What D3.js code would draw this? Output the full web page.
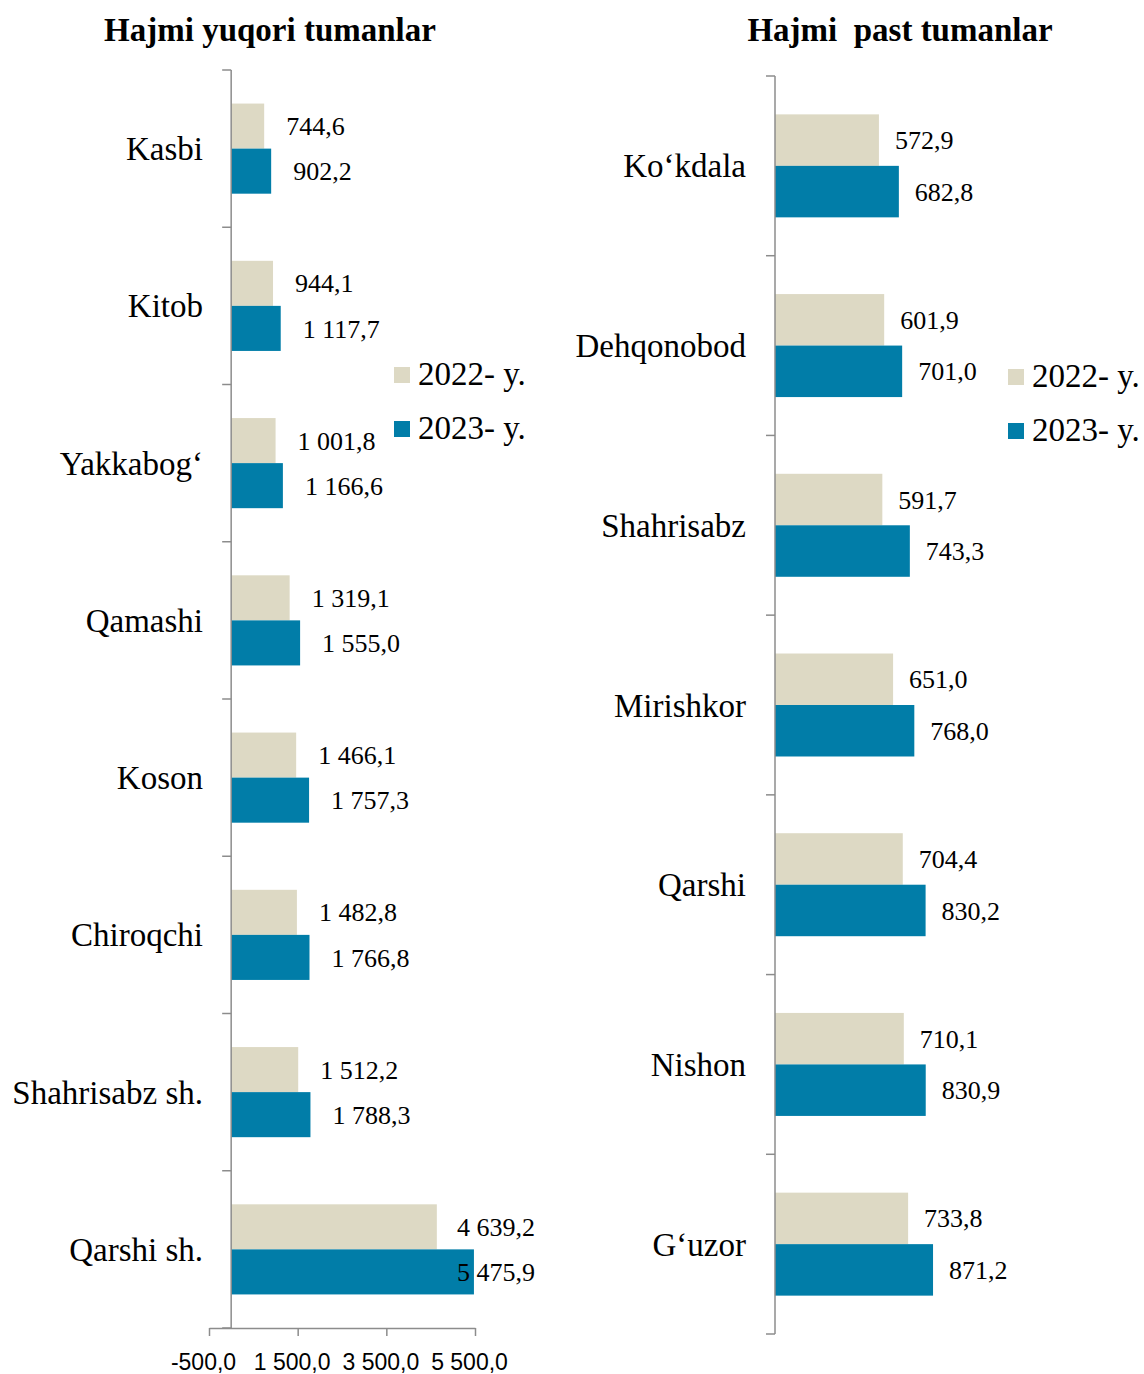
<!DOCTYPE html>
<html>
<head>
<meta charset="utf-8">
<script src="https://cdn.jsdelivr.net/npm/d3@7"></script>
<style>
  body { margin: 0; background: #fff; }
  svg { display: block; }
  text { white-space: pre; }
</style>
</head>
<body>
<div id="chart"></div>
<script>
// left panel: high volume districts
const leftTitle = "Hajmi yuqori tumanlar";
const leftCats = ["Kasbi", "Kitob", "Yakkabog‘", "Qamashi", "Koson", "Chiroqchi", "Shahrisabz sh.", "Qarshi sh."];
const left2022 = [744.6, 944.1, 1001.8, 1319.1, 1466.1, 1482.8, 1512.2, 4639.2];
const left2023 = [902.2, 1117.7, 1166.6, 1555.0, 1757.3, 1766.8, 1788.3, 5475.9];
const leftTicks = [-500, 1500, 3500, 5500];

// right panel: low volume districts
const rightTitle = "Hajmi  past tumanlar";
const rightCats = ["Ko‘kdala", "Dehqonobod", "Shahrisabz", "Mirishkor", "Qarshi", "Nishon", "G‘uzor"];
const right2022 = [572.9, 601.9, 591.7, 651.0, 704.4, 710.1, 733.8];
const right2023 = [682.8, 701.0, 743.3, 768.0, 830.2, 830.9, 871.2];

const years = ["2022- y.", "2023- y."];
const colors = ["#DDD9C4", "#017DA8"];

const loc = d3.formatLocale({ decimal: ",", thousands: " ", grouping: [3], currency: ["", ""], minus: "-" });
const fmt = loc.format(",.1f");

const W = 1144, H = 1374;
const svg = d3.select("#chart").append("svg").attr("width", W).attr("height", H);
const axisColor = "#8c8c8c";
const serif = "'Liberation Serif', 'Times New Roman', serif";

function panel(opts) {
    const g = svg.append("g");
    const y0 = d3.scaleBand().domain(opts.cats).range(opts.yRange);
    const y1 = d3.scaleBand().domain(years).range([0, y0.bandwidth()]).paddingOuter(0.745);
    const x = opts.x;
    const zero = x(0);

    const rows = opts.cats.map((c, i) => ({ cat: c, vals: [opts.v2022[i], opts.v2023[i]] }));

    const grp = g.selectAll(".row").data(rows).enter().append("g")
        .attr("transform", d => `translate(0,${y0(d.cat)})`);

    grp.selectAll("rect")
        .data(d => d.vals.map((v, k) => ({ v, k })))
        .enter().append("rect")
        .attr("x", zero)
        .attr("y", d => y1(years[d.k]))
        .attr("width", d => x(d.v) - zero)
        .attr("height", y1.bandwidth())
        .attr("fill", d => colors[d.k]);

    grp.selectAll("text.val")
        .data(d => d.vals.map((v, k) => ({ v, k })))
        .enter().append("text")
        .attr("class", "val")
        .attr("x", d => x(d.v) + opts.labelGap)
        .attr("y", d => y1(years[d.k]) + y1.bandwidth() / 2)
        .attr("dy", "0.35em")
        .style("font-family", serif)
        .style("font-size", "26px")
        .attr("fill", "#000")
        .text(d => fmt(d.v))
        .each(function() {
            if (opts.labelMax) {
                const el = d3.select(this);
                const w = this.getComputedTextLength();
                if (+el.attr("x") + w > opts.labelMax) el.attr("x", opts.labelMax).attr("text-anchor", "end");
            }
        });

    // category labels
    g.selectAll("text.cat").data(opts.cats).enter().append("text")
        .attr("x", opts.catX)
        .attr("y", d => y0(d) + y0.bandwidth() / 2)
        .attr("dy", "0.35em")
        .attr("text-anchor", "end")
        .style("font-family", serif)
        .style("font-size", "33px")
        .text(d => d);

    // vertical category axis with ticks at band edges
    const edges = opts.cats.map(c => y0(c)).concat([opts.yRange[1]]);
    g.append("line")
        .attr("x1", zero).attr("x2", zero)
        .attr("y1", opts.yRange[0]).attr("y2", opts.yRange[1])
        .attr("stroke", axisColor).attr("stroke-width", 1.5);
    g.selectAll("line.tk").data(edges).enter().append("line")
        .attr("x1", zero - 9).attr("x2", zero)
        .attr("y1", d => d).attr("y2", d => d)
        .attr("stroke", axisColor).attr("stroke-width", 1.5);

    // title
    g.append("text")
        .attr("x", opts.titleX).attr("y", 41)
        .attr("text-anchor", "middle")
        .style("font-family", serif)
        .style("font-size", "33px")
        .style("font-weight", "bold")
        .text(opts.title);

    // legend
    years.forEach((yr, k) => {
        const lg = g.append("g").attr("transform", `translate(${opts.legend[0]},${opts.legend[1] + k * 54})`);
        lg.append("rect").attr("x", 0).attr("y", -18).attr("width", 16).attr("height", 16).attr("fill", colors[k]);
        lg.append("text").attr("x", 24).attr("y", 0)
            .style("font-family", serif)
            .style("font-size", "33px")
            .text(yr);
    });
    return g;
}

const xL = d3.scaleLinear().domain([-500, 5500]).range([209, 475]);
const gL = panel({
    cats: leftCats, v2022: left2022, v2023: left2023,
    x: xL, yRange: [70, 1328], labelGap: 22, labelMax: 535,
    catX: 203, title: leftTitle, titleX: 270, legend: [394, 385]
});

// value axis of the left panel
const axL = gL.append("g")
    .attr("transform", "translate(0,1328)")
    .call(d3.axisBottom(xL).tickValues(leftTicks).tickFormat(fmt).tickSize(8).tickSizeOuter(0));
axL.select(".domain").attr("stroke", axisColor).attr("stroke-width", 1.5);
axL.selectAll(".tick line").attr("stroke", axisColor).attr("stroke-width", 1.5);
axL.selectAll(".tick text")
    .attr("y", 26)
    .attr("x", -6)
    .attr("fill", "#000")
    .style("font-family", "'Liberation Sans', Arial, sans-serif")
    .style("font-size", "23px");

const xR = d3.scaleLinear().domain([0, 1000]).range([775, 956.4]);
panel({
    cats: rightCats, v2022: right2022, v2023: right2023,
    x: xR, yRange: [76, 1334], labelGap: 16, labelMax: null,
    catX: 746, title: rightTitle, titleX: 900, legend: [1008, 387]
});
</script>
</body>
</html>
